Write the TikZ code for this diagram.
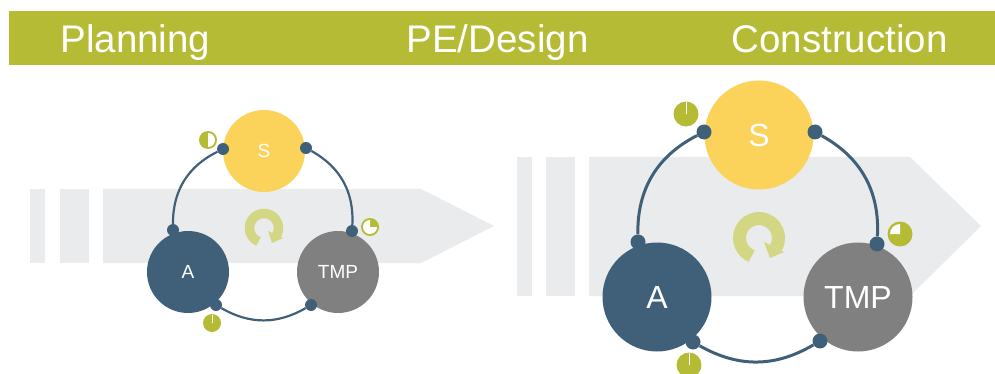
\documentclass[tikz,border=0pt]{standalone}
\usepackage{fontspec}
\setmainfont{Liberation Sans}
\usetikzlibrary{arrows}
\definecolor{bannergreen}{HTML}{B5BB35}
\definecolor{arrowgrey}{HTML}{EAEBEC}
\definecolor{ringgreen}{HTML}{D3D784}
\definecolor{syellow}{HTML}{FBD35B}
\definecolor{anavy}{HTML}{40607A}
\definecolor{tmpgrey}{HTML}{808080}
\tikzset{
  phase/.style={anchor=base west,text=white,font=\fontsize{38.5}{40}\selectfont},
  role/.style={circle,inner sep=0pt,text=white},
  smallrole/.style={role,minimum size=82pt,font=\fontsize{19}{20}\selectfont},
  bigrole/.style={role,minimum size=109pt,font=\fontsize{32}{34}\selectfont},
  smalldot/.style={circle,inner sep=0pt,fill=anavy,minimum size=12pt},
  bigdot/.style={circle,inner sep=0pt,fill=anavy,minimum size=15pt},
  smallpie/.style={circle,inner sep=0pt,fill=bannergreen,minimum size=18pt},
  bigpie/.style={circle,inner sep=0pt,fill=bannergreen,minimum size=25pt},
  smalllink/.style={anavy,line width=2.2pt},
  biglink/.style={anavy,line width=3pt}
}
\begin{document}
\begin{tikzpicture}[x=1pt,y=-1pt]
\useasboundingbox (0,0) rectangle (995,374);
\fill [bannergreen] (9,11) rectangle (995,65);
\node [phase] (planning) at (57,53) {Planning};
\node [phase] (design) at (403,53) {PE/Design};
\node [phase] (construction) at (728,53) {Construction};

\begin{scope}
  \fill [arrowgrey] (30,189) rectangle (45,263);
  \fill [arrowgrey] (60,189) rectangle (89,263);
  \fill [arrowgrey] (103,189) -- (421,189) -- (494,226) -- (421,263) -- (103,263) -- cycle;
  \node [smallrole,fill=syellow] (s) at (264,151) {S};
  \node [smallrole,fill=anavy] (a) at (188,272) {A};
  \node [smallrole,fill=tmpgrey] (tmp) at (338,272) {TMP};
  \node [smalldot] (s1) at (223,149) {};
  \node [smalldot] (s2) at (306,148) {};
  \node [smalldot] (t1) at (352,231) {};
  \node [smalldot] (t2) at (311,305) {};
  \node [smalldot] (a1) at (216,305) {};
  \node [smalldot] (a2) at (173,230) {};
  \draw [smalllink] (s1) to [bend right=32] (a2);
  \draw [smalllink] (s2) to [bend left=32] (t1);
  \draw [smalllink] (a1) to [bend right=30] (t2);
  \node [smallpie] (p1) at (208,140) {};
  \fill [white] (p1.center) ++(0,-7) arc [start angle=-90,end angle=90,radius=7] -- cycle;
  \node [smallpie] (p2) at (370,227) {};
  \fill [white] (p2.center) -- ++(0,-7) arc [start angle=-90,end angle=-360,radius=7] -- cycle;
  \node [smallpie] (p3) at (212,323) {};
  \draw [white,line width=.8pt] (p3.center) -- (212,315);
  \draw [ringgreen,line width=9.5pt] (264,228) ++(-248:14.5) arc [start angle=-248,end angle=30,radius=14.5];
  \fill [ringgreen] (268,231) -- (283,238) -- (272,243) -- cycle;
\end{scope}

\begin{scope}
  \fill [arrowgrey] (517,157) rectangle (532,296);
  \fill [arrowgrey] (546,157) rectangle (575,296);
  \fill [arrowgrey] (589,157) -- (910,157) -- (981,226) -- (910,296) -- (589,296) -- cycle;
  \node [bigrole,fill=syellow] (s) at (759,135) {S};
  \node [bigrole,fill=anavy] (a) at (657,297) {A};
  \node [bigrole,fill=tmpgrey] (tmp) at (858,297) {TMP};
  \node [bigdot] (s1) at (704,132) {};
  \node [bigdot] (s2) at (815,132) {};
  \node [bigdot] (t1) at (877,244) {};
  \node [bigdot] (t2) at (820,341) {};
  \node [bigdot] (a1) at (693,342) {};
  \node [bigdot] (a2) at (638,242) {};
  \draw [biglink] (s1) to [bend right=32] (a2);
  \draw [biglink] (s2) to [bend left=32] (t1);
  \draw [biglink] (a1) to [bend right=30] (t2);
  \node [bigpie] (p1) at (686,114) {};
  \draw [white,line width=.8pt] (p1.center) -- (686,102);
  \node [bigpie] (p2) at (900,234) {};
  \fill [white] (p2.center) -- ++(-10,0) arc [start angle=180,end angle=270,radius=10] -- cycle;
  \node [bigpie] (p3) at (689,365) {};
  \draw [white,line width=.8pt] (p3.center) -- (689,353);
  \draw [ringgreen,line width=13pt] (759,238) ++(-248:19.5) arc [start angle=-248,end angle=30,radius=19.5];
  \fill [ringgreen] (764,242) -- (784,252) -- (770,258) -- cycle;
\end{scope}
\end{tikzpicture}
\end{document}
